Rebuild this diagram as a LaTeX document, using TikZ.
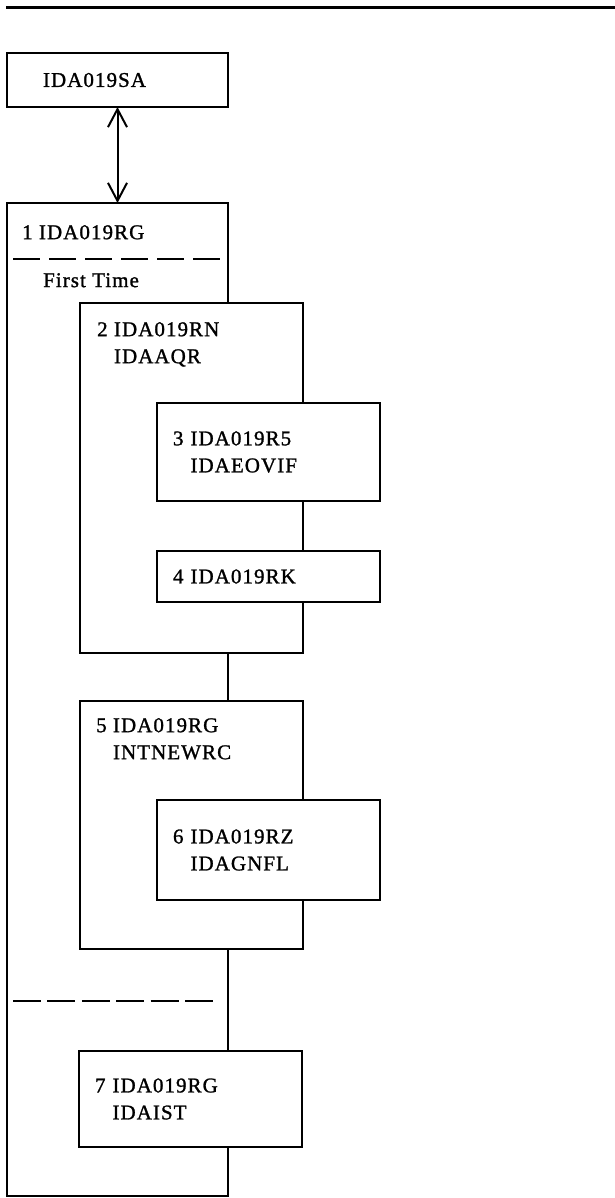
\documentclass[tikz,border=0pt]{standalone}
\usepackage{fontspec}
\setmainfont{Liberation Serif}[LetterSpace=5,FakeBold=1.2]
\usetikzlibrary{positioning,arrows.meta}

\begin{document}
\begin{tikzpicture}[x=1pt,y=-1pt,>={Straight Barb[length=18pt,width=19pt]},
        every node/.style={font=\fontsize{21}{27}\selectfont},
        box/.style={draw,fill=white,line width=2pt,inner sep=0pt,outer sep=0pt,anchor=north west},
        leaf/.style={box,align=left,text width=191pt,inner xsep=16pt},
        tag/.style={anchor=north west,align=left,inner sep=0pt},
        sep/.style={line width=2pt,dash pattern=on 27pt off 9pt}]
   \useasboundingbox (0,0) rectangle (615,1198);
   \draw[line width=3pt] (6,8) -- (615,8);
   \node (SA) [box,align=left,text width=149pt,inner xsep=36pt,minimum height=54pt] at (7,53) {IDA019SA};
   \node (R1) [box,minimum width=221pt,minimum height=993pt] at (7,203) {};
   \draw[<->,line width=2pt] (SA) -- (R1);
   \node (T1) [tag] at ([shift={(15,22)}]R1.north west) {1 IDA019RG};
   \draw[sep] ([shift={(6,56)}]R1.north west) -- +(211,0);
   \node (FT) [tag] at ([shift={(36,70)}]R1.north west) {First Time};
   % first pass: 2 calls 3 and 4
   \node (R2) [box,minimum width=223pt,minimum height=350pt] at (80,303) {};
   \node (T2) [tag] at ([shift={(17,19)}]R2.north west) {2 IDA019RN\\\phantom{2 }IDAAQR};
   \node (R3) [leaf,minimum height=98pt] at (157,403) {3 IDA019R5\\\phantom{3 }IDAEOVIF};
   \node (R4) [leaf,minimum height=51pt] at (157,551) {4 IDA019RK};
   \node (R5) [box,minimum width=223pt,minimum height=248pt] at (80,701) {};
   \node (T5) [tag] at ([shift={(16,17)}]R5.north west) {5 IDA019RG\\\phantom{5 }INTNEWRC};
   \node (R6) [leaf,minimum height=100pt] at (157,800) {6 IDA019RZ\\\phantom{6 }IDAGNFL};
   % every later pass
   \draw[sep,dash pattern=on 28pt off 6.4pt] ([shift={(6,798)}]R1.north west) -- +(200,0);
   \node (R7) [leaf,minimum height=96pt] at (79,1051) {7 IDA019RG\\\phantom{7 }IDAIST};
\end{tikzpicture}
\end{document}
